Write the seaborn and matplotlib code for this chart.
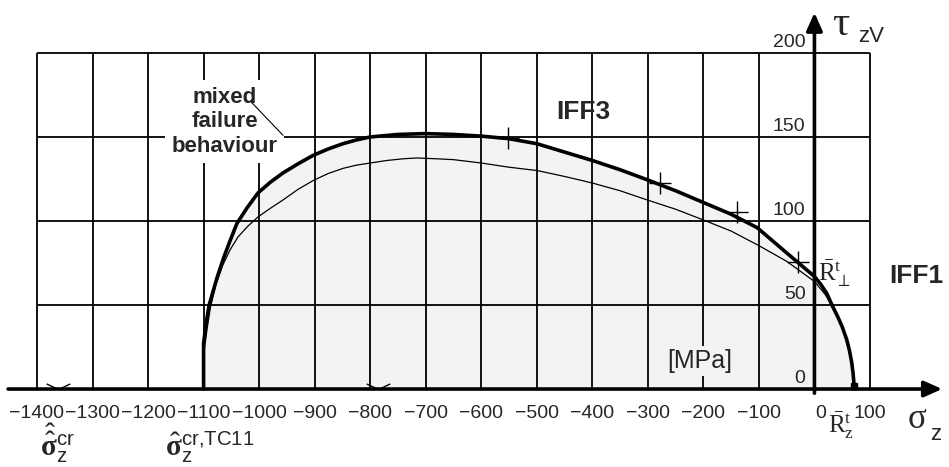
import matplotlib
matplotlib.use('Agg')
import matplotlib.pyplot as plt
import seaborn as sns
import pandas as pd

# fracture curve (thick) and inner curve (thin), tau_zV over sigma_z in MPa
thick_sigma = [-1100, -1100, -1096, -1090, -1083, -1076, -1064, -1052, -1040, -1022,
               -1002, -980, -957, -930, -903, -876, -849, -825, -800, -750,
               -700, -650, -600, -551, -500, -450, -400, -350, -301, -250,
               -200, -150, -103, -50, 0, 12, 22, 33, 42, 50,
               58, 63, 67, 69.5, 71, 71.5]
thick_tau = [0, 27, 38, 50, 58, 66, 78, 88.5, 98.5, 107.7,
             116.7, 123, 128.6, 134, 139, 142.8, 146, 148.2, 150, 151.5,
             152, 151.5, 150.5, 149, 146, 141, 136, 130.5, 124.5, 118,
             111, 104, 96, 81, 67, 62, 57, 49, 43, 37,
             29.5, 23, 16, 9.5, 4, 0]

thin_sigma = [-1100, -1100, -1094, -1088, -1078, -1065, -1052, -1038, -1020, -1002,
              -980, -957, -930, -903, -876, -849, -825, -800, -770, -741,
              -716, -680, -650, -600, -550, -499, -450, -400, -350, -301,
              -250, -200, -150, -101, -50, 0, 20, 32, 42]
thin_tau = [0, 20, 35, 48, 62, 74, 83, 90.5, 97, 102.4,
            107.5, 112.5, 118.8, 124, 128.2, 131.3, 133.2, 134.5, 136, 137,
            137.5, 137, 136.5, 134.5, 132, 130, 126.5, 122.6, 118, 112.5,
            107, 100.6, 94, 85.5, 76, 64, 56, 49, 43]

# "+" marks on the fracture curve
cross_sigma = [-552, -279, -139, -30]
cross_tau = [149.4, 122.8, 105.5, 75.8]

# "v" marks on the sigma axis
notch_sigma = [-1362, -786]
Rzt = 71.5

x_ticks = list(range(-1400, 101, 100))
y_ticks = [0, 50, 100, 150, 200]

sns.set_theme(style='white')
plt.rcParams['font.family'] = ['Liberation Sans', 'DejaVu Sans']
plt.rcParams['mathtext.fontset'] = 'custom'
plt.rcParams['mathtext.rm'] = 'Liberation Serif'
plt.rcParams['mathtext.it'] = 'Liberation Serif:italic'
plt.rcParams['mathtext.bf'] = 'Liberation Serif:bold'
plt.rcParams['mathtext.sf'] = 'Liberation Sans'

fig = plt.figure(figsize=(9.49, 4.67), dpi=100)
ax = fig.add_axes([0, 0, 1, 1])
ax.set_axis_off()
ax.set_xlim(-1466.6, 242.3)
ax.set_ylim(-46.4, 231.5)

ax.fill_between(thick_sigma, thick_tau, color='#f3f3f3', lw=0, zorder=1)

# grid
ax.vlines(x_ticks, y_ticks[0], y_ticks[-1], color='black', lw=1.3, zorder=2)
ax.hlines(y_ticks[1:], x_ticks[0], x_ticks[-1], color='black', lw=1.3, zorder=2)

thick = pd.DataFrame({'sigma': thick_sigma, 'tau': thick_tau})
thin = pd.DataFrame({'sigma': thin_sigma, 'tau': thin_tau})
sns.lineplot(data=thin, x='sigma', y='tau', sort=False, estimator=None,
             color='black', lw=0.9, ax=ax, zorder=3)
sns.lineplot(data=thick, x='sigma', y='tau', sort=False, estimator=None,
             color='black', lw=2.6, ax=ax, zorder=3)
ax.plot(cross_sigma, cross_tau, ls='none', marker='+', ms=16, mew=1.0,
        color='black', zorder=4)
ax.plot([Rzt], [2], ls='none', marker='s', ms=5, color='black', zorder=6)
ax.plot(notch_sigma, [0] * len(notch_sigma), ls='none',
        marker=[(-1, 0.47), (0, 0), (1, 0.47)], ms=17, mew=1.0,
        mfc='none', color='black', zorder=4)

# axes with arrows
arrow = dict(arrowstyle='-|>,head_length=0.9,head_width=0.4', lw=2.6,
             color='black', mutation_scale=12, shrinkA=0, shrinkB=0)
ax.annotate('', xy=(230, 0), xytext=(-1452, 0), arrowprops=arrow, zorder=5)
ax.annotate('', xy=(0, 224), xytext=(0, -2.5), arrowprops=arrow, zorder=5)

# tick labels
for t in x_ticks:
    label = str(t).replace('-', '\u2212')
    if t == 0:
        ax.text(1.5, -17.3, label, ha='left', va='baseline', fontsize=14)
    else:
        ax.text(t, -17.3, label, ha='center', va='baseline', fontsize=14)
for t in y_ticks:
    ax.text(-16, t + 3.5, str(t), ha='right', va='baseline', fontsize=14)

# axis titles
ax.text(32, 210.7, 'τ', fontsize=31, family='Liberation Serif', va='baseline', ha='left')
ax.text(79, 206.5, 'zV', fontsize=16, va='baseline', ha='left')
ax.text(167.6, -23, 'σ', fontsize=25, family='Liberation Serif', va='baseline', ha='left')
ax.text(209, -30.4, 'z', fontsize=16, va='baseline', ha='left')

# annotations
ax.text(-416, 165, 'IFF3', fontsize=19, fontweight='bold', ha='center', va='center')
ax.text(184, 67, 'IFF1', fontsize=19, fontweight='bold', ha='center', va='center')
ax.text(-1062, 159, 'mixed\nfailure\nbehaviour', fontsize=16, fontweight='bold',
        ha='center', va='center', linespacing=1.2, zorder=4,
        bbox=dict(boxstyle='square,pad=0.3', fc='white', ec='none'))
ax.annotate('', xy=(-957, 151), xytext=(-1016, 171.4),
            arrowprops=dict(arrowstyle='-', lw=0.8, color='black', shrinkA=0, shrinkB=0),
            zorder=4)
ax.text(-207, 16.7, '[MPa]', fontsize=18, ha='center', va='center', zorder=4,
        bbox=dict(boxstyle='square,pad=0.12', fc='#f3f3f3', ec='none'))
ax.annotate(r'$\bar{\mathrm{R}}_{\perp}^{\mathrm{t}}$', xy=(0, 66), xytext=(7, 64),
            fontsize=18, ha='left', va='baseline', zorder=4,
            arrowprops=dict(arrowstyle='-', lw=0.8, color='black', shrinkA=0, shrinkB=0))
ax.text(25, -26, r'$\bar{\mathrm{R}}_{\mathrm{z}}^{\mathrm{t}}$', fontsize=18,
        ha='left', va='baseline')
ax.text(-1394, -40, r'$\hat{\hat{\mathbf{\sigma}}}_{\mathsf{z}}^{\mathsf{cr}}$',
        fontsize=21, ha='left', va='baseline')
ax.text(-1169, -40, r'$\hat{\mathbf{\sigma}}_{\mathsf{z}}^{\mathsf{cr{,}TC11}}$',
        fontsize=21, ha='left', va='baseline')

fig.savefig('out.png', dpi=100)
